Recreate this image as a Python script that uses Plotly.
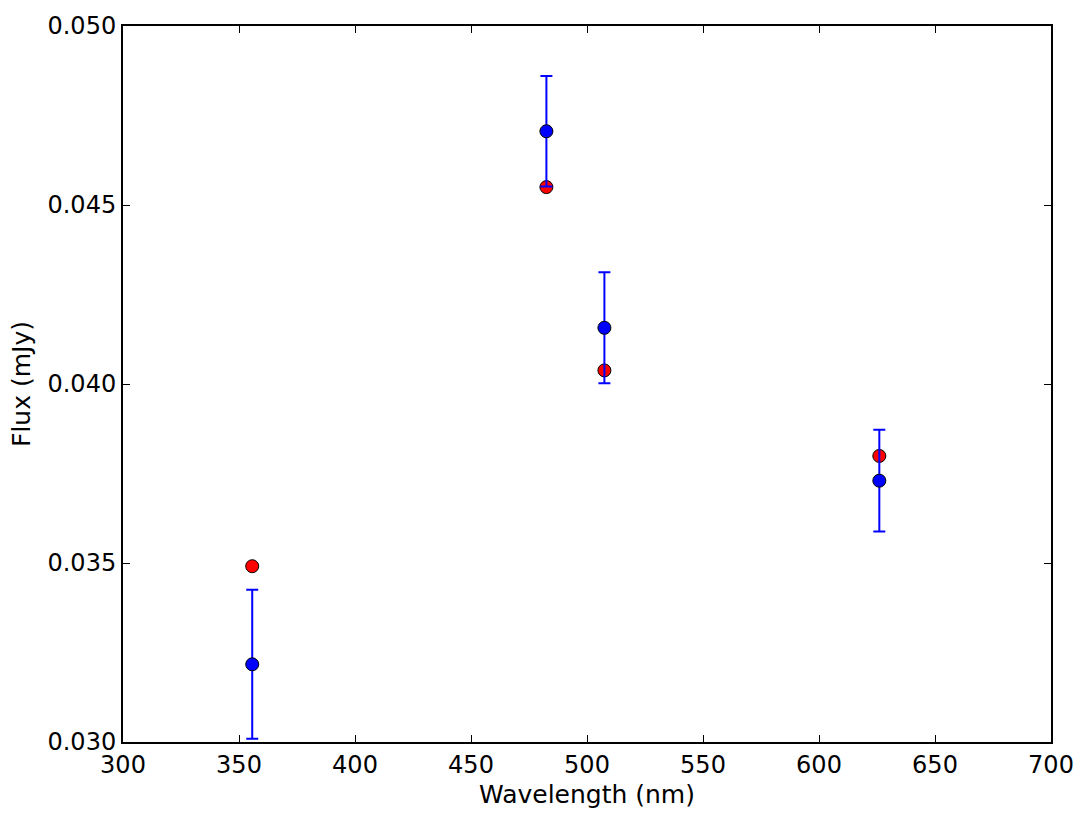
import plotly.graph_objects as go

wavelength = [355.7, 482.5, 507.5, 626.0]
flux_obs = [0.03217, 0.04706, 0.04157, 0.03730]
flux_err = [0.00208, 0.00154, 0.00155, 0.00142]
flux_model = [0.03491, 0.04550, 0.04038, 0.03799]

fig = go.Figure()
fig.add_trace(go.Scatter(
    x=wavelength, y=flux_model, mode="markers",
    marker=dict(color="red", size=13, line=dict(color="black", width=1)),
    showlegend=False))
fig.add_trace(go.Scatter(
    x=wavelength, y=flux_obs, mode="markers",
    error_y=dict(type="data", array=flux_err, visible=True, color="blue",
                 thickness=2, width=6),
    marker=dict(color="blue", size=13, line=dict(color="black", width=1)),
    showlegend=False))

axis_common = dict(
    showline=True, linecolor="black", linewidth=2, mirror="allticks",
    ticks="inside", ticklen=7, tickwidth=1, tickcolor="black",
    showgrid=False, zeroline=False,
    tickfont=dict(family="DejaVu Sans", size=24, color="black"),
)
fig.update_xaxes(range=[300, 700], dtick=50, tickformat="d",
                 title=dict(text="Wavelength (nm)", font=dict(family="DejaVu Sans", size=25, color="black"), standoff=8),
                 **axis_common)
fig.update_yaxes(range=[0.030, 0.050], dtick=0.005, tickformat=".3f",
                 title=dict(text="Flux (mJy)", font=dict(family="DejaVu Sans", size=25, color="black"), standoff=10),
                 **axis_common)
fig.update_layout(
    width=1086, height=816,
    margin=dict(l=122.5, r=33, t=23, b=73),
    plot_bgcolor="white", paper_bgcolor="white",
)
fig.write_html("out.html")
